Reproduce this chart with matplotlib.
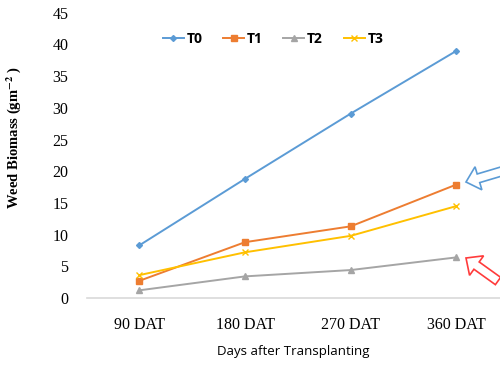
import matplotlib.pyplot as plt
from matplotlib.patches import FancyArrow

days = ['90 DAT', '180 DAT', '270 DAT', '360 DAT']
t0 = [8.3, 18.8, 29.1, 39.0]
t1 = [2.7, 8.8, 11.3, 17.9]
t2 = [1.2, 3.4, 4.4, 6.4]
t3 = [3.6, 7.2, 9.8, 14.5]

plt.rcParams['mathtext.fontset'] = 'stix'

fig = plt.figure(figsize=(5, 3.66), dpi=100)
ax = fig.add_axes([0.173, 0.186, 0.8266, 0.779])

x = range(len(days))
ax.plot(x, t0, color='#5B9BD5', marker='D', ms=3, lw=1.4, label='T0')
ax.plot(x, t1, color='#ED7D31', marker='s', ms=4.5, lw=1.4, label='T1')
ax.plot(x, t2, color='#A5A5A5', marker='^', ms=4.5, lw=1.4, label='T2')
ax.plot(x, t3, color='#FFC000', marker='x', ms=4, mew=1, lw=1.4, label='T3')

ax.set_xlim(-0.5, 3.41)
ax.set_ylim(0, 45)
ax.set_yticks(range(0, 46, 5))
ax.set_xticks(list(x))
ax.set_xticklabels(days, fontfamily='Liberation Serif', fontsize=11.5)
for lab in ax.get_yticklabels():
    lab.set_fontfamily('Liberation Serif')
    lab.set_fontsize(11.5)
ax.tick_params(length=0)
ax.tick_params(axis='x', pad=14)
ax.tick_params(axis='y', pad=13)
for s in ['top', 'right', 'left']:
    ax.spines[s].set_visible(False)
ax.spines['bottom'].set_color('#D9D9D9')
ax.spines['bottom'].set_linewidth(1.2)

fig.text(14 / 500, 1 - 137 / 366, r'Weed Biomass (gm$^{\mathbf{-2}}$ )', rotation=90,
         ha='center', va='center', fontfamily='Liberation Serif', fontweight='bold', fontsize=10.5)
fig.text(293 / 500, 1 - 352 / 366, 'Days after Transplanting', ha='center', va='center',
         fontfamily='Open Sans', fontsize=9.5)

leg = ax.legend(loc='center', bbox_to_anchor=(273 / 500, 1 - 39 / 366), bbox_transform=fig.transFigure,
                ncol=4, frameon=False, handlelength=1.5, columnspacing=1.5, handletextpad=0.2,
                prop={'family': 'Open Sans', 'weight': 'bold', 'size': 10})

# hollow arrows (positions in inches from lower-left of figure)
for (x0, y0, dx, dy, c) in [(5.03, 1.95, -0.37, -0.11, '#5B9BD5'),
                            (4.98, 0.85, -0.32, 0.23, '#FF3B3B')]:
    fig.patches.append(FancyArrow(x0, y0, dx, dy, width=0.09, head_width=0.24, head_length=0.13,
                                  length_includes_head=True, fc='white', ec=c, lw=1.2,
                                  transform=fig.dpi_scale_trans, figure=fig))

fig.savefig('out.png', dpi=100)
